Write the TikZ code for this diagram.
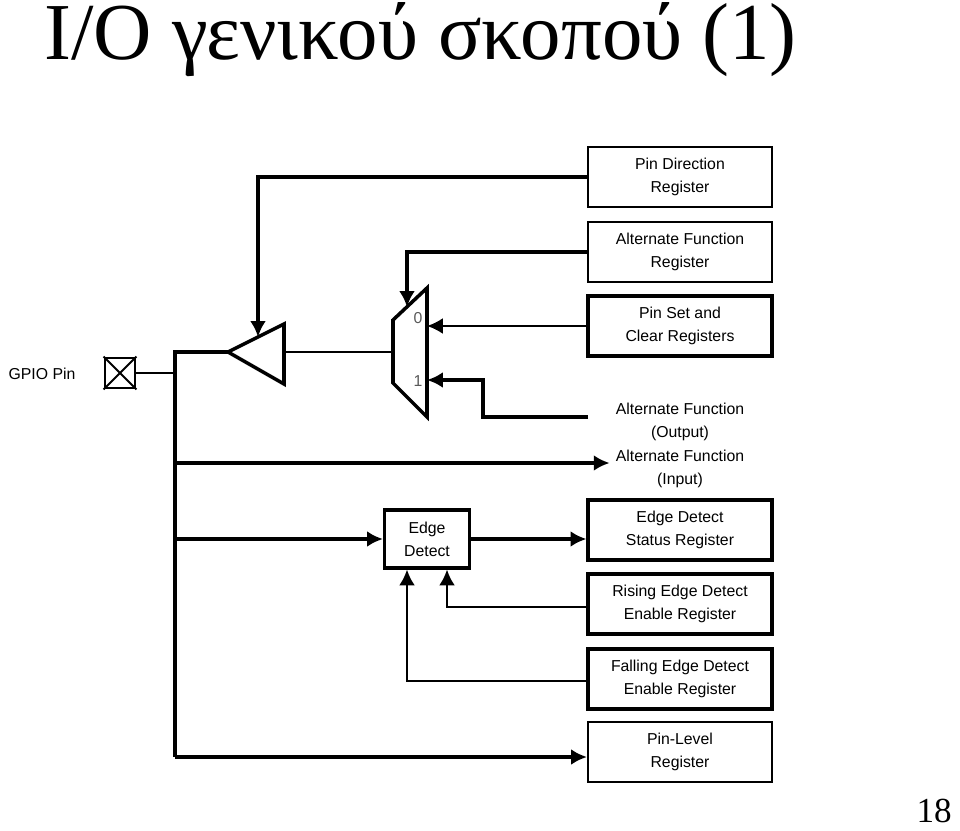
\documentclass[tikz,border=0pt]{standalone}
\usepackage{fontspec}
\setmainfont{Liberation Serif}
\newfontfamily\regfont{Liberation Sans}
\usetikzlibrary{arrows.meta,positioning}
\tikzset{
	reg/.style={draw, line width=1.2pt, minimum width=3.68cm, minimum height=1.2cm, align=center, font=\regfont\fontsize{9}{13}\selectfont},
	lbl/.style={align=center, font=\regfont\fontsize{9}{13}\selectfont},
	wire/.style={line width=2pt},
	sig/.style={wire, -{Latex[length=9pt,width=9pt]}}
}
\begin{document}
\begin{tikzpicture}[x=0.02cm, y=-0.02cm]
	\useasboundingbox (0,0) rectangle (960,831);
	\node (title) [anchor=west, font=\fontsize{46}{50}\selectfont] at (38,40) {I/O γενικού σκοπού (1)};
	\node (page) [anchor=south east, font=\fontsize{20}{24}\selectfont] at (958,829) {18};
	
	% registers
	\node (dir) at (680,177) [reg] {Pin Direction\\Register};
	\node (alt) at (680,252) [reg] {Alternate Function\\Register};
	\node (set) at (680,326) [reg, line width=1.8pt] {Pin Set and\\Clear Registers};
	\node (aout) at (680,422) [lbl] {Alternate Function\\(Output)};
	\node (ain) at (680,469) [lbl] {Alternate Function\\(Input)};
	\node (eds) at (680,530) [reg, line width=1.8pt] {Edge Detect\\Status Register};
	\node (red) at (680,604) [reg, line width=1.8pt] {Rising Edge Detect\\Enable Register};
	\node (fed) at (680,679) [reg, line width=1.8pt] {Falling Edge Detect\\Enable Register};
	\node (lvl) at (680,752) [reg] {Pin-Level\\Register};
	
	% pin
	\node (gpio) at (42,374) [lbl] {GPIO Pin};
	\node (pin) at (120,373) [draw, line width=1.6pt, minimum size=0.6cm, inner sep=0pt] {};
	\draw[line width=1.2pt] (pin.north west) -- (pin.south east) (pin.north east) -- (pin.south west);
	
	% buffer and mux
	\draw[wire] (228,352) -- (284,324) -- (284,384) -- cycle;
	\coordinate (buf) at (228,352);
	\coordinate (bufo) at (284,352);
	\coordinate (bufen) at (258,337);
	\draw[wire] (393,320) -- (427,288) -- (427,417) -- (393,383) -- cycle;
	\coordinate (muxo) at (393,352);
	\coordinate (mux0) at (427,326);
	\coordinate (mux1) at (427,380);
	\coordinate (muxsel) at (407,307);
	\node (l0) at (418,318) [lbl, text=gray!70!black] {0};
	\node (l1) at (418,381) [lbl, text=gray!70!black] {1};
	
	\node (edge) at (427,539) [draw, line width=1.8pt, minimum width=1.7cm, minimum height=1.16cm, lbl] {Edge\\Detect};
	
	% bus
	\coordinate (bt) at (175,352);
	\coordinate (bb) at (175,757);
	\draw[line width=1.2pt] (pin.east) -- (175,373);
	\draw[line width=1.2pt] (bufo) -- (muxo);
	\draw[wire] (buf) -- (bt) -- (bb);
	\draw[sig] (bb) -- (lvl.west |- bb);
	\draw[sig] (175,463) -- (ain.west |- 0,463);
	\draw[sig] (175,539) -- (edge.west);
	\draw[sig] (edge.east) -- (eds.west |- edge.east);
	
	% controls
	\draw[sig] (dir.west) -| (bufen);
	\draw[sig] (alt.west) -| (muxsel);
	\draw[sig, line width=1.2pt] (set.west) -- (mux0);
	\draw[sig] (588,417) -- (483,417) |- (mux1);
	\draw[sig, line width=1.2pt] (red.west |- 0,607) -| ([xshift=20*0.02cm]edge.south);
	\draw[sig, line width=1.2pt] (fed.west |- 0,681) -| ([xshift=-20*0.02cm]edge.south);
\end{tikzpicture}
\end{document}
